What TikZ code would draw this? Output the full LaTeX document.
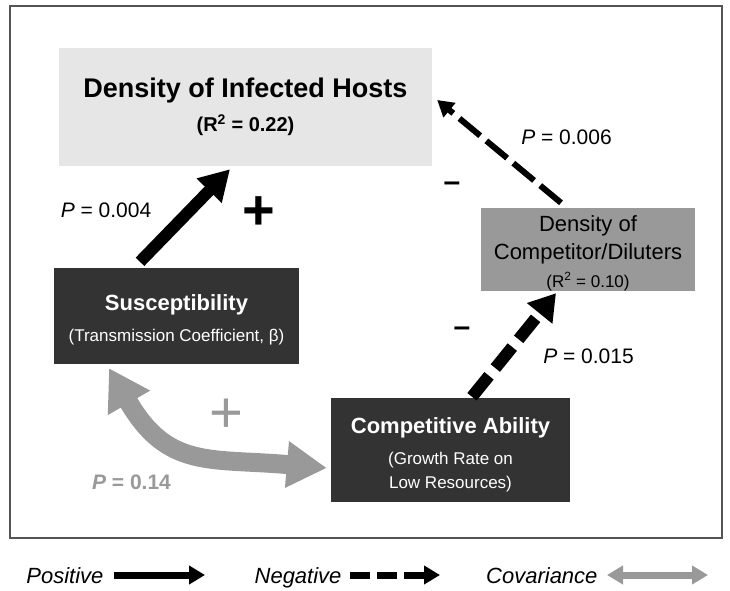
\documentclass[tikz,border=0pt]{standalone}
\usepackage{fontspec}
\setmainfont{Liberation Sans}
\usetikzlibrary{arrows.meta}
\definecolor{hostgray}{HTML}{E6E6E6}
\definecolor{compgray}{HTML}{999999}
\definecolor{darkbox}{HTML}{333333}
\definecolor{covgray}{HTML}{999999}
\definecolor{framegray}{HTML}{555555}

\begin{document}
\begin{tikzpicture}[x=1pt,y=1pt,
  box/.style={rectangle,inner sep=0pt,align=center},
  dark/.style={box,fill=darkbox,text=white},
  pval/.style={font=\fontsize{21}{25}\selectfont},
  sign/.style={font=\fontsize{56}{56}\selectfont\bfseries},
  legend/.style={font=\fontsize{22}{26}\selectfont\itshape,anchor=base east},
  posarrow/.style={line width=12pt,-{Triangle[length=30pt,width=33pt]}},
  neghost/.style={line width=6pt,dash pattern=on 27pt off 8pt,-{Triangle[length=16pt,width=18pt]}},
  negcomp/.style={line width=12pt,dash pattern=on 27pt off 10pt,-{Triangle[length=26pt,width=31pt]}},
  covarrow/.style={covgray,line width=19pt,{Triangle[length=40pt,width=46pt]}-{Triangle[length=40pt,width=44pt]}}
]
\useasboundingbox (0,0) rectangle (730,590);
\draw[framegray,line width=1.2pt] (10,52) rectangle (722,584);

% boxes
\node[box,fill=hostgray,minimum width=373pt,minimum height=118pt,
  font=\fontsize{20}{34}\selectfont\bfseries] (hosts) at (245.5,483)
  {\fontsize{27}{34}\selectfont Density of Infected Hosts\\(R\textsuperscript{2} = 0.22)};
\node[box,fill=compgray,minimum width=214pt,minimum height=83pt,
  font=\fontsize{22}{28}\selectfont] (comp) at (588,340.5)
  {\rule{0pt}{23pt}Density of\\Competitor/Diluters\\\fontsize{17}{28}\selectfont (R\textsuperscript{2} = 0.10)};
\node[dark,minimum width=245pt,minimum height=96pt,
  font=\fontsize{17}{31}\selectfont] (sus) at (176.5,274)
  {\rule{0pt}{23pt}\fontsize{22}{31}\selectfont\bfseries Susceptibility\\(Transmission Coefficient, β)};
\node[dark,minimum width=239pt,minimum height=104pt,
  font=\fontsize{17}{24}\selectfont] (ability) at (450.5,140)
  {\rule{0pt}{25pt}\fontsize{22}{24}\selectfont\bfseries Competitive Ability\\[7pt](Growth Rate on\\Low Resources)};

% paths
\draw[posarrow] ([xshift=-36.5pt,yshift=6pt]sus.north) -- ([xshift=-15.5pt,yshift=-3pt]hosts.south);
\draw[neghost] ([xshift=-27pt,yshift=5pt]comp.north) -- ([xshift=5pt,yshift=7pt]hosts.east);
\draw[negcomp] ([xshift=21.5pt,yshift=1pt]ability.north) -- ([xshift=-32pt,yshift=-2pt]comp.south);
\draw[covarrow] ([xshift=-67.5pt,yshift=-4pt]sus.south) to[out=-60,in=175,looseness=1.25] ([xshift=-4pt,yshift=-18pt]ability.west);

% labels
\node[pval] (p006) at (566.5,453) {\textit{P} = 0.006};
\node[pval] (p004) at (106,380) {\textit{P} = 0.004};
\node[pval] (p015) at (588.5,234) {\textit{P} = 0.015};
\node[pval,covgray] (p014) at (131.5,108) {\bfseries\textit{P} = 0.14};
\node[sign] (plusa) at (259,377) {+};
\node[sign,font=\fontsize{30}{30}\selectfont\bfseries] (minusa) at (452,403) {–};
\node[sign,font=\fontsize{30}{30}\selectfont\bfseries] (minusb) at (462,258) {–};
\node[sign,covgray,font=\fontsize{58}{58}\selectfont] (plusb) at (226.5,174) {+};

% legend
\node[legend] (lpos) at (107,7) {Positive};
\coordinate (lposend) at (205,15);
\draw[line width=7pt,-{Triangle[length=16pt,width=18pt]}] ([xshift=7pt,yshift=8pt]lpos.base east) -- (lposend);
\node[legend] (lneg) at (345,7) {Negative};
\coordinate (lnegend) at (440,15);
\draw[line width=7pt,dash pattern=on 20pt off 7pt,-{Triangle[length=16pt,width=18pt]}] ([xshift=5pt,yshift=8pt]lneg.base east) -- (lnegend);
\node[legend] (lcov) at (601,7) {Covariance};
\coordinate (lcovend) at (708,15);
\draw[covgray,line width=7pt,{Triangle[length=16pt,width=18pt]}-{Triangle[length=16pt,width=18pt]}] ([xshift=6pt,yshift=8pt]lcov.base east) -- (lcovend);
\end{tikzpicture}
\end{document}
